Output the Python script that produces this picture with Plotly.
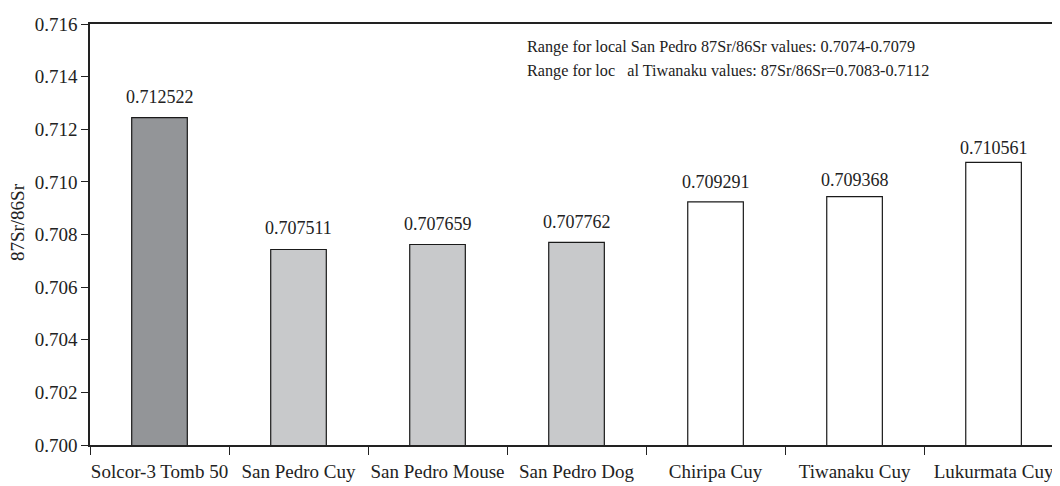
import plotly.graph_objects as go

categories = ["Solcor-3 Tomb 50", "San Pedro Cuy", "San Pedro Mouse", "San Pedro Dog",
              "Chiripa Cuy", "Tiwanaku Cuy", "Lukurmata Cuy"]
bar_heights = [0.71244, 0.70743, 0.70762, 0.70770, 0.70924, 0.70944, 0.71074]
label_values = [0.712522, 0.707511, 0.707659, 0.707762, 0.709291, 0.709368, 0.710561]
bar_colors = ["#939598", "#c8c9cb", "#c8c9cb", "#c8c9cb", "#ffffff", "#ffffff", "#ffffff"]
y_ticks = [0.700, 0.702, 0.704, 0.706, 0.708, 0.710, 0.712, 0.714, 0.716]
note_lines = ["Range for local San Pedro 87Sr/86Sr values: 0.7074-0.7079",
              "Range for loc\u00a0\u00a0 al Tiwanaku values: 87Sr/86Sr=0.7083-0.7112"]
y_title = "87Sr/86Sr"

FONT = "Liberation Serif"
TXT = "#222222"

fig = go.Figure()
fig.add_trace(go.Bar(
    x=categories, y=bar_heights,
    marker=dict(color=bar_colors, line=dict(color="#1a1a1a", width=1.2)),
    width=0.4, showlegend=False, hoverinfo="x+y",
))

for c, v in zip(categories, label_values):
    fig.add_annotation(x=c, y=v, text=f"{v:.6f}", showarrow=False,
                       yanchor="bottom", yshift=7,
                       font=dict(family=FONT, size=18, color=TXT))

for yy, line in zip([0.945, 0.888], note_lines):
    fig.add_annotation(xref="paper", yref="paper", x=0.448, y=yy,
                       xanchor="left", yanchor="middle", text=line, showarrow=False,
                       font=dict(family=FONT, size=16.2, color=TXT))

fig.add_annotation(xref="paper", yref="paper", x=-0.074, y=0.53, text=y_title,
                   textangle=-90, showarrow=False, xanchor="center", yanchor="middle",
                   font=dict(family=FONT, size=19, color=TXT))

fig.update_layout(
    width=1052, height=478,
    margin=dict(l=82, r=0, t=16, b=41),
    paper_bgcolor="white", plot_bgcolor="white",
    font=dict(family=FONT, size=17, color=TXT),
    xaxis=dict(
        range=[-0.5, 6.478], showline=True, linecolor="#222222", linewidth=1.5,
        mirror=True, ticks="outside", ticklen=8, tickcolor="#222222",
        tickson="boundaries", showgrid=False, zeroline=False, automargin=False,
        ticklabelstandoff=8, tickangle=0,
        tickfont=dict(family=FONT, size=19, color=TXT),
    ),
    yaxis=dict(
        range=[0.700, 0.716], tickvals=y_ticks, ticktext=[f"{t:.3f}" for t in y_ticks],
        showline=True, linecolor="#222222", linewidth=1.5, ticks="outside", ticklen=7,
        tickcolor="#222222", showgrid=False, zeroline=False, automargin=False,
        tickfont=dict(family=FONT, size=19, color=TXT),
    ),
)

fig.write_html("out.html")
